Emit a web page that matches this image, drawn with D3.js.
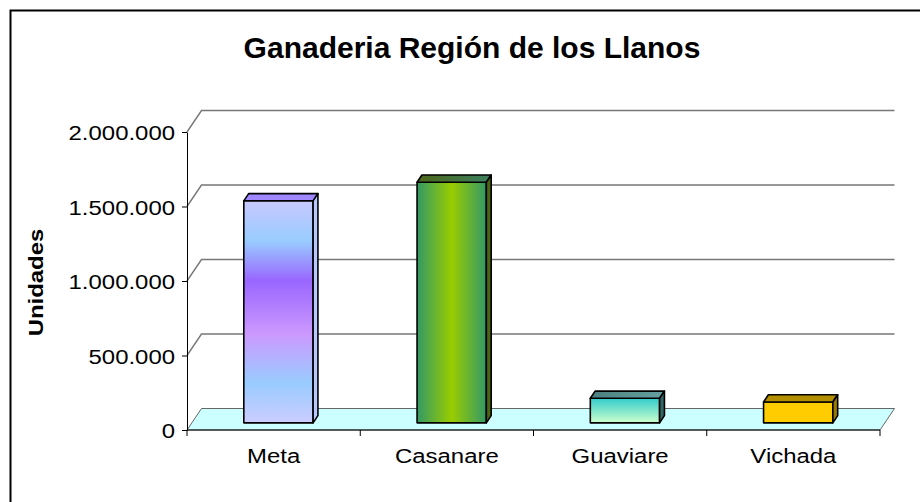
<!DOCTYPE html>
<html lang="es">
<head>
<meta charset="UTF-8">
<title>Ganaderia Región de los Llanos</title>
<script src="https://d3js.org/d3.v7.min.js"></script>
<style>
  body { margin: 0; padding: 0; background: #fff; }
  svg { display: block; font-family: Arial, "Liberation Sans", sans-serif; }
</style>
</head>
<body>
<div id="chart"></div>
<script>
// datos
const categorias = ["Meta", "Casanare", "Guaviare", "Vichada"];
const valores = [1490000, 1615000, 165000, 140000];
const ticksY = [0, 500000, 1000000, 1500000, 2000000];

const W = 920, H = 502;
const plotL = 187, plotR = 880, plotB = 430, plotT = 132;
const depthX = 14.5, depthY = -21.5;       // profundidad del piso (3D)
const barDX = depthX / 3, barDY = depthY / 3;

const svg = d3.select("#chart").append("svg")
  .attr("width", W).attr("height", H);

// gradientes de las barras
const defs = svg.append("defs");
function grad(id, stops, horizontal) {
  const g = defs.append("linearGradient").attr("id", id)
    .attr("x1", 0).attr("y1", 0)
    .attr("x2", horizontal ? 1 : 0).attr("y2", horizontal ? 0 : 1);
  stops.forEach(s => g.append("stop").attr("offset", s[0]).attr("stop-color", s[1]));
}
grad("gMeta", [[0, "#c8c8ff"], [0.18, "#99ccff"], [0.36, "#9966ff"], [0.6, "#cc99ff"], [0.82, "#99ccff"], [1, "#ccccff"]]);
grad("gCas", [[0, "#339966"], [0.5, "#99cc00"], [1, "#339966"]], true);
grad("gCasTop", [[0, "#4d6619"], [1, "#3d8060"]], true);
grad("gGua", [[0, "#33cccc"], [1, "#ccffcc"]]);
grad("gGuaTop", [[0, "#4d8080"], [1, "#66a0a0"]], true);

const estilos = [
  { front: "url(#gMeta)", topF: "#9f88ff", side: "#b8c8ff" },
  { front: "url(#gCas)", topF: "url(#gCasTop)", side: "#4a6614" },
  { front: "url(#gGua)", topF: "url(#gGuaTop)", side: "#336666" },
  { front: "#ffcc00", topF: "#b38f00", side: "#997a00" }
];

// borde exterior del área del gráfico
svg.append("rect")
  .attr("x", 10.5).attr("y", 10.5)
  .attr("width", 1000).attr("height", 600)
  .attr("fill", "none").attr("stroke", "#000").attr("stroke-width", 2);

// escalas
const x = d3.scaleBand()
  .domain(categorias)
  .range([plotL, plotR])
  .paddingInner(0.6)
  .paddingOuter(0.3);

const y = d3.scaleLinear()
  .domain([0, 2000000])
  .range([plotB, plotT]);

const loc = d3.formatLocale({ decimal: ",", thousands: ".", grouping: [3], currency: ["$", ""] });
const fmt = loc.format(",d");

// piso
svg.append("path")
  .attr("d", `M${plotL},${plotB} L${plotL + depthX},${plotB + depthY} L${plotR + depthX},${plotB + depthY} L${plotR},${plotB} Z`)
  .attr("fill", "#ccffff").attr("stroke", "#666").attr("stroke-width", 1);

// líneas de división (pared del fondo)
svg.append("g").selectAll("path")
  .data(ticksY.filter(t => t > 0))
  .join("path")
  .attr("d", t => `M${plotL},${y(t)} L${plotL + depthX},${y(t) + depthY} L${plotR + depthX},${y(t) + depthY}`)
  .attr("fill", "none").attr("stroke", "#777").attr("stroke-width", 1.4);

// eje vertical
const gy = svg.append("g")
  .attr("transform", `translate(${plotL},0)`)
  .call(d3.axisLeft(y).tickValues(ticksY).tickFormat(fmt).tickSize(5).tickSizeOuter(0));
gy.select(".domain").attr("stroke", "#000");
gy.selectAll(".tick line").attr("stroke", "#000");
gy.selectAll(".tick text")
  .attr("x", null).attr("dy", null)
  .attr("fill", "#000")
  .style("font-size", "21px")
  .attr("text-anchor", "end")
  .attr("transform", "translate(-12,7.5) scale(1.14,1)");

// eje horizontal (línea frontal del piso + marcas entre categorías)
svg.append("line")
  .attr("x1", plotL).attr("x2", plotR).attr("y1", plotB).attr("y2", plotB)
  .attr("stroke", "#000").attr("stroke-width", 1.2);
svg.append("g").selectAll("line")
  .data(d3.range(categorias.length + 1))
  .join("line")
  .attr("x1", i => plotL + i * x.step()).attr("x2", i => plotL + i * x.step())
  .attr("y1", plotB).attr("y2", plotB + 6)
  .attr("stroke", "#000");

const gx = svg.append("g")
  .attr("transform", `translate(0,${plotB})`)
  .call(d3.axisBottom(x).tickSize(0));
gx.select(".domain").remove();
gx.selectAll(".tick text")
  .attr("y", null).attr("dy", null)
  .attr("fill", "#000")
  .style("font-size", "21px")
  .attr("text-anchor", "middle")
  .attr("transform", "translate(0,33) scale(1.14,1)");

// barras 3D
const bars = svg.append("g").selectAll("g")
  .data(categorias.map((c, i) => ({ c, v: valores[i], e: estilos[i] })))
  .join("g");

bars.each(function (d) {
  const g = d3.select(this);
  const bx = x(d.c) + barDX;
  const w = x.bandwidth();
  const b0 = y(0) + barDY;
  const t = y(d.v) + barDY;
  g.append("rect")
    .attr("x", bx).attr("y", t).attr("width", w).attr("height", b0 - t)
    .attr("fill", d.e.front);
  g.append("path")
    .attr("d", `M${bx},${t} L${bx + barDX},${t + barDY} L${bx + w + barDX},${t + barDY} L${bx + w},${t} Z`)
    .attr("fill", d.e.topF);
  g.append("path")
    .attr("d", `M${bx + w},${t} L${bx + w + barDX},${t + barDY} L${bx + w + barDX},${b0 + barDY} L${bx + w},${b0} Z`)
    .attr("fill", d.e.side);
  g.selectAll("rect, path")
    .attr("stroke", "#000").attr("stroke-width", 1.6).attr("stroke-linejoin", "round");
});

// título
svg.append("text")
  .attr("x", 472).attr("y", 58)
  .attr("text-anchor", "middle")
  .style("font-size", "30px").style("font-weight", "bold")
  .text("Ganaderia Región de los Llanos");

// título del eje
svg.append("text")
  .attr("transform", "translate(43,282.5) rotate(-90) scale(1.14,1)")
  .attr("text-anchor", "middle")
  .style("font-size", "21px").style("font-weight", "bold")
  .text("Unidades");
</script>
</body>
</html>
